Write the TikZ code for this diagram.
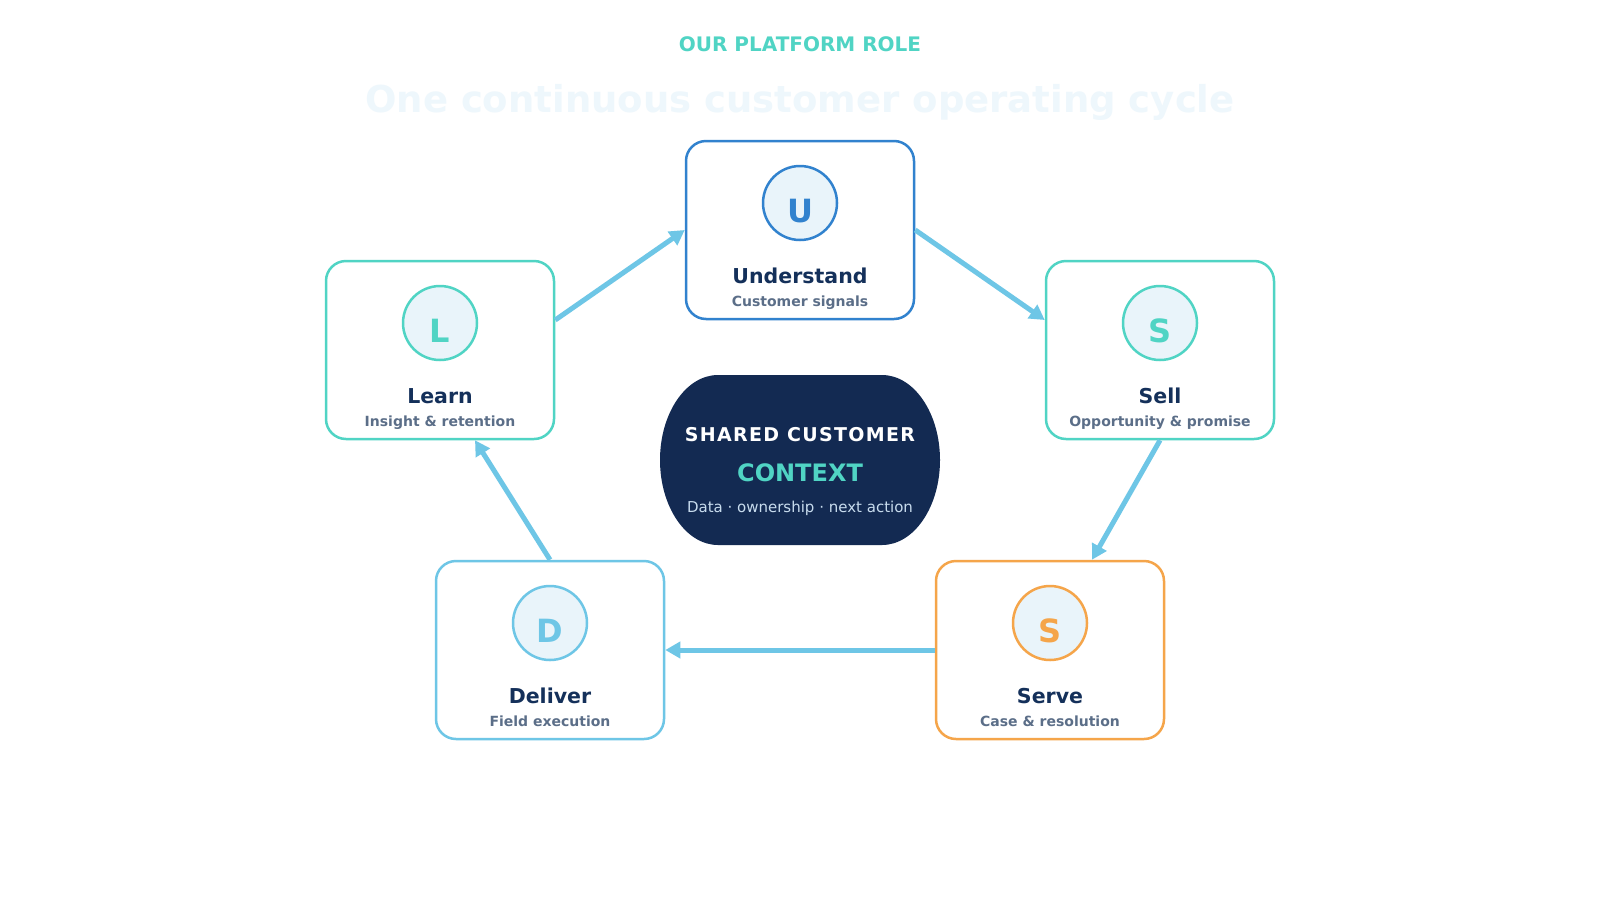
\documentclass[tikz,border=0pt]{standalone}
\usepackage{fontspec}
\setmainfont{DejaVu Sans}
\usetikzlibrary{arrows.meta}
\definecolor{navyfill}{HTML}{132A52}
\definecolor{navytext}{HTML}{14305A}
\definecolor{subgrey}{HTML}{5B6E88}
\definecolor{tealc}{HTML}{50D4C4}
\definecolor{bluec}{HTML}{3182CE}
\definecolor{lightbluec}{HTML}{6EC6E6}
\definecolor{orangec}{HTML}{F5A54A}
\definecolor{badgefill}{HTML}{E9F4FA}
\definecolor{faint}{HTML}{EEF7FC}
\definecolor{ctxsub}{HTML}{C8DCEE}
\newcommand\mkstage[7]{%
  \node[stagebox, draw=#4] (#1) at (#2,#3) {};
  \node[badge, draw=#4] (#1badge) at ([yshift=27pt]#1.center) {};
  \node[letterstyle, text=#4] (#1letter) at ([yshift=-19pt]#1badge.center) {#5};
  \node[stagetitle] (#1title) at ([yshift=-53pt]#1.center) {#6};
  \node[stagesub] (#1sub) at ([yshift=-76pt]#1.center) {#7};
}
\begin{document}
\begin{tikzpicture}[x=1pt,y=-1pt,
  stagebox/.style={line width=2.5pt, rounded corners=20pt, minimum width=228pt, minimum height=178pt, inner sep=0pt, fill=white},
  badge/.style={circle, line width=2.5pt, fill=badgefill, minimum size=74pt, inner sep=0pt},
  letterstyle/.style={anchor=base, inner sep=0pt, font=\fontsize{32}{38}\selectfont\bfseries},
  stagetitle/.style={anchor=base, inner sep=0pt, text=navytext, font=\fontsize{20.5}{24}\selectfont\bfseries},
  stagesub/.style={anchor=base, inner sep=0pt, text=subgrey, font=\fontsize{14}{17}\selectfont\bfseries},
  flow/.style={draw=lightbluec, line width=5pt, -{Triangle[length=15pt,width=16pt]}},
  plain/.style={anchor=base, inner sep=0pt}]
\useasboundingbox[fill=white] (0,0) rectangle (1600,900);

% titles
\node[plain, text=tealc, font=\fontsize{20}{24}\selectfont\bfseries] (eyebrow) at (800,51) {OUR PLATFORM ROLE};
\node[plain, text=faint, font=\fontsize{37}{44}\selectfont\bfseries] (headline) at (800,112) {One continuous customer operating cycle};

% stages
\mkstage{understand}{800}{230}{bluec}{U}{Understand}{Customer signals}
\mkstage{sell}{1160}{350}{tealc}{S}{Sell}{Opportunity \& promise}
\mkstage{serve}{1050}{650}{orangec}{S}{Serve}{Case \& resolution}
\mkstage{deliver}{550}{650}{lightbluec}{D}{Deliver}{Field execution}
\mkstage{learn}{440}{350}{tealc}{L}{Learn}{Insight \& retention}

% centre context
\fill[navyfill] (718,375) -- (882,375) .. controls (914,375) and (940,413.1) .. (940,460)
  .. controls (940,506.9) and (914,545) .. (882,545) -- (718,545)
  .. controls (686,545) and (660,506.9) .. (660,460)
  .. controls (660,413.1) and (686,375) .. (718,375) -- cycle;
\node[plain, text=white, font=\fontsize{19}{23}\selectfont\bfseries\addfontfeature{LetterSpace=7}] (ctxtop) at (800,441.5) {SHARED CUSTOMER};
\node[plain, text=tealc, font=\fontsize{24}{29}\selectfont\bfseries] (ctxmain) at (800,481.5) {CONTEXT};
\node[plain, text=ctxsub, font=\fontsize{15}{18}\selectfont] (ctxsub) at (800,512.5) {Data · ownership · next action};

% connectors
\draw[flow] ([yshift=30pt]learn.east) -- (understand.west);
\draw[flow] (understand.east) -- ([yshift=30pt]sell.west);
\draw[flow] (sell.south) -- ([xshift=42pt]serve.north);
\draw[flow] (serve.west) -- (deliver.east);
\draw[flow] (deliver.north) -- ([xshift=35pt]learn.south);
\end{tikzpicture}
\end{document}
